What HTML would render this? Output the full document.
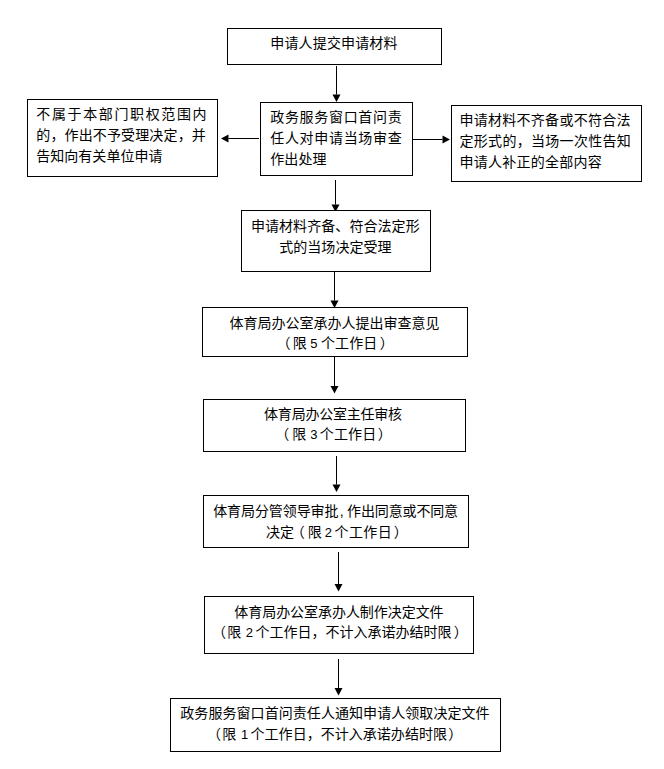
<!DOCTYPE html>
<html lang="zh-CN">
<head>
<meta charset="utf-8">
<title>办理流程图</title>
<style>
html,body{margin:0;padding:0;background:#fff;}
body{width:664px;height:769px;position:relative;overflow:hidden;color:#000;}
.box{position:absolute;box-sizing:border-box;border:1px solid #000;background:#fff;}
.t{position:absolute;left:0;width:664px;height:14px;font-size:14px;line-height:14px;white-space:pre;}
.t span{position:absolute;top:0;}
.t .d{font-size:13px;top:1px;}
.a{font-family:"Liberation Sans", "Noto Sans CJK SC", sans-serif;}
.b{font-family:"Liberation Sans", "Noto Sans CJK SC", sans-serif;}
svg{position:absolute;left:0;top:0;}
</style>
</head>
<body>
<svg width="664" height="769" viewBox="0 0 664 769">
<line x1="336.5" y1="66" x2="336.5" y2="94.5" stroke="#000" stroke-width="1"/><polygon points="336.5,102 332.5,94.5 340.5,94.5" fill="#000"/>
<line x1="259" y1="138.5" x2="228.5" y2="138.5" stroke="#000" stroke-width="1"/><polygon points="221,138.5 228.5,134.5 228.5,142.5" fill="#000"/>
<line x1="413" y1="139.5" x2="442.5" y2="139.5" stroke="#000" stroke-width="1"/><polygon points="450,139.5 442.5,143.5 442.5,135.5" fill="#000"/>
<line x1="335.5" y1="180" x2="335.5" y2="204.5" stroke="#000" stroke-width="1"/><polygon points="335.5,212 331.5,204.5 339.5,204.5" fill="#000"/>
<line x1="334.5" y1="272" x2="334.5" y2="300.5" stroke="#000" stroke-width="1"/><polygon points="334.5,308 330.5,300.5 338.5,300.5" fill="#000"/>
<line x1="334.5" y1="357" x2="334.5" y2="386" stroke="#000" stroke-width="1"/><polygon points="334.5,393.5 330.5,386 338.5,386" fill="#000"/>
<line x1="336.5" y1="456" x2="336.5" y2="484.5" stroke="#000" stroke-width="1"/><polygon points="336.5,492 332.5,484.5 340.5,484.5" fill="#000"/>
<line x1="338.5" y1="552" x2="338.5" y2="584" stroke="#000" stroke-width="1"/><polygon points="338.5,591.5 334.5,584 342.5,584" fill="#000"/>
<line x1="338.5" y1="659" x2="338.5" y2="688" stroke="#000" stroke-width="1"/><polygon points="338.5,695.5 334.5,688 342.5,688" fill="#000"/>
</svg>
<div class="box" style="left:227px;top:28px;width:215px;height:37px"></div>
<div class="box" style="left:27px;top:99px;width:191px;height:78px"></div>
<div class="box" style="left:260px;top:102px;width:153px;height:74px"></div>
<div class="box" style="left:451px;top:105px;width:191px;height:77px"></div>
<div class="box" style="left:241px;top:210px;width:190px;height:62px"></div>
<div class="box" style="left:202px;top:307px;width:266px;height:50px"></div>
<div class="box" style="left:203px;top:399px;width:263px;height:53px"></div>
<div class="box" style="left:203px;top:495px;width:266px;height:53px"></div>
<div class="box" style="left:204px;top:596px;width:270px;height:58px"></div>
<div class="box" style="left:170px;top:698px;width:331px;height:54px"></div>
<div class="t a" id="l0" style="top:36px"><span style="left:270.25px;letter-spacing:0.16px;">申请人提交申请材料</span></div>
<div class="t a" id="l1" style="top:107px"><span style="left:36.25px;letter-spacing:1.63px;">不属于本部门职权范围内</span></div>
<div class="t a" id="l2" style="top:128px"><span style="left:36.25px;letter-spacing:0.14px;">的，作出不予受理决定，并</span></div>
<div class="t a" id="l3" style="top:149px"><span style="left:36.25px;letter-spacing:0.03px;">告知向有关单位申请</span></div>
<div class="t a" id="l4" style="top:110px"><span style="left:270.20px;letter-spacing:0.69px;">政务服务窗口首问责</span></div>
<div class="t a" id="l5" style="top:131px"><span style="left:270.20px;letter-spacing:0.69px;">任人对申请当场审查</span></div>
<div class="t a" id="l6" style="top:152px"><span style="left:270.20px;letter-spacing:0.1px;">作出处理</span></div>
<div class="t a" id="l7" style="top:113px"><span style="left:459.50px;letter-spacing:0.27px;">申请材料不齐备或不符合法</span></div>
<div class="t a" id="l8" style="top:134px"><span style="left:459.50px;letter-spacing:0.3px;">定形式的，当场一次性告知</span></div>
<div class="t a" id="l9" style="top:155px"><span style="left:459.50px;letter-spacing:0.25px;">申请人补正的全部内容</span></div>
<div class="t a" id="l10" style="top:219px"><span style="left:250.90px;letter-spacing:0.07px;">申请材料齐备、符合法定形</span></div>
<div class="t a" id="l11" style="top:240px"><span style="left:279.25px;letter-spacing:0.04px;">式的当场决定受理</span></div>
<div class="t b" id="l12" style="top:316px"><span style="left:229.50px;">体育局办公室承办人提出审查意见</span></div>
<div class="t b" id="l13" style="top:336px"><span style="left:276.50px;">（</span><span style="left:292.75px;">限</span><span class="d" style="left:306.55px;"> 5 </span><span style="left:320.95px;letter-spacing:0.1px;">个工作日</span><span style="left:379.75px;">）</span></div>
<div class="t b" id="l14" style="top:407px"><span style="left:264.10px;letter-spacing:-0.23px;">体育局办公室主任审核</span></div>
<div class="t b" id="l15" style="top:427px"><span style="left:275.35px;">（</span><span style="left:292.25px;">限</span><span class="d" style="left:306.75px;"> 3 </span><span style="left:319.85px;letter-spacing:0.13px;">个工作日</span><span style="left:377.75px;">）</span></div>
<div class="t b" id="l16" style="top:504px"><span style="left:213.20px;letter-spacing:-0.09px;">体育局分管领导审批</span><span style="left:339.75px;">,</span><span style="left:347.10px;letter-spacing:-0.14px;">作出同意或不同意</span></div>
<div class="t b" id="l17" style="top:525px"><span style="left:265.90px;">决定</span><span style="left:290.85px;">（</span><span style="left:307.75px;">限</span><span class="d" style="left:321.05px;"> 2 </span><span style="left:334.55px;letter-spacing:0.4px;">个工作日</span><span style="left:393.75px;">）</span></div>
<div class="t b" id="l18" style="top:605px"><span style="left:234.30px;letter-spacing:-0.05px;">体育局办公室承办人制作决定文件</span></div>
<div class="t b" id="l19" style="top:625px"><span style="left:212.05px;">（</span><span style="left:227.25px;">限</span><span class="d" style="left:242.05px;"> 2 </span><span style="left:255.55px;">个工作日，不计入承诺办结时限</span><span style="left:453.65px;">）</span></div>
<div class="t b" id="l20" style="top:706px"><span style="left:180.30px;letter-spacing:0.06px;">政务服务窗口首问责任人通知申请人领取决定文件</span></div>
<div class="t b" id="l21" style="top:727px"><span style="left:207.05px;">（</span><span style="left:222.25px;">限</span><span class="d" style="left:237.50px;"> 1 </span><span style="left:250.55px;letter-spacing:0.03px;">个工作日，不计入承诺办结时限</span><span style="left:448.25px;">）</span></div>
</body>
</html>
